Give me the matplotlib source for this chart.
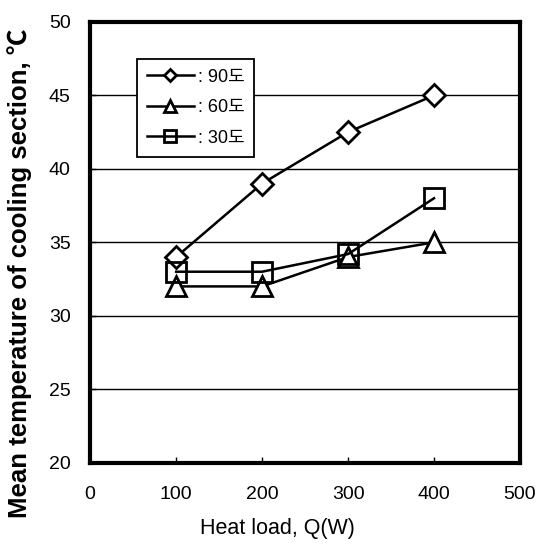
import matplotlib
matplotlib.use("Agg")
import matplotlib.pyplot as plt

plt.rcParams['font.family'] = ['Liberation Sans', 'Noto Sans CJK KR', 'DejaVu Sans']

# ── Data ────────────────────────────────────────────────────────────────────
heat_load = [100, 200, 300, 400]
temp_90 = [34.0, 39.0, 42.5, 45.0]
temp_60 = [32.0, 32.0, 34.0, 35.0]
temp_30 = [33.0, 33.0, 34.2, 38.0]
labels = [': 90도', ': 60도', ': 30도']
y_ticks = [20, 25, 30, 35, 40, 45, 50]
x_ticks = [0, 100, 200, 300, 400, 500]

# ── Plot ────────────────────────────────────────────────────────────────────
fig = plt.figure(figsize=(5.4, 5.47), dpi=100)
ax = fig.add_axes([0.167, 0.154, 0.796, 0.806])

for yv in y_ticks[1:-1]:
    ax.axhline(yv, color='black', lw=1.0, zorder=1)

ax.plot(heat_load, temp_90, '-', color='black', lw=1.8, marker='D', ms=11,
        mfc='white', mec='black', mew=2, label=labels[0], zorder=3)
ax.plot(heat_load, temp_60, '-', color='black', lw=1.8, marker='^', ms=15,
        mfc='white', mec='black', mew=2, label=labels[1], zorder=3)
ax.plot(heat_load, temp_30, '-', color='black', lw=1.8, marker='s', ms=15,
        mfc='none', mec='black', mew=2, label=labels[2], zorder=4)

ax.set_xlim(0, 500)
ax.set_ylim(20, 50)
ax.set_xticks(x_ticks)
ax.set_yticks(y_ticks)
ax.tick_params(axis='both', direction='in', length=4, width=1, labelsize=14)
ax.tick_params(axis='x', pad=17)
ax.tick_params(axis='y', pad=14)
for s in ax.spines.values():
    s.set_linewidth(3)

ax.set_xlabel('Heat load, Q(W)', fontsize=15.5, labelpad=4)
ax.xaxis.set_label_coords(0.435, -0.125)
ax.set_ylabel('Mean temperature of cooling section, ℃', fontsize=18.5,
              fontweight='bold')
ax.yaxis.set_label_coords(-0.135, 0.43)

leg = ax.legend(loc='upper left', bbox_to_anchor=(0.088, 0.937), fontsize=13,
                frameon=True, fancybox=False, edgecolor='black', markerscale=0.55,
                handlelength=2.6, labelspacing=0.75, borderpad=0.55, handletextpad=0.2)
leg.get_frame().set_linewidth(1.3)
leg.get_frame().set_alpha(1)

fig.savefig('out.png', dpi=100)
